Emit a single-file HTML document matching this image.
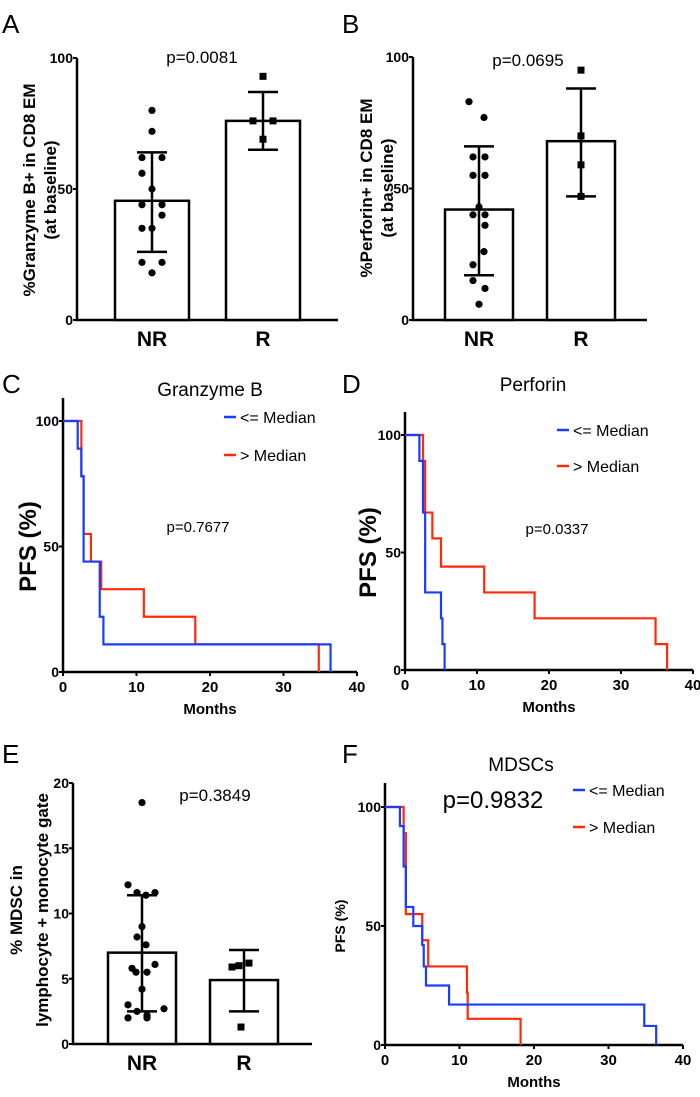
<!DOCTYPE html>
<html><head><meta charset="utf-8"><style>
html,body{margin:0;padding:0;background:#fff;}
svg{display:block;font-family:"Liberation Sans",sans-serif;}
</style></head><body>
<svg id="fig" width="700" height="1097" viewBox="0 0 700 1097"></svg>
<script>
// ---- Panel A data
const aCats=["NR","R"];
const aMeans=[45.5,76];
const aErrLo=[26,65];
const aErrHi=[64,87];
const aNR=[80,72,62,62,56,50,44,44,40,35,35,22,22,18];
const aR=[93,76,76,69];
const aTicks=[0,50,100];
// ---- Panel B data
const bMeans=[42,68];
const bErrLo=[17,47];
const bErrHi=[66,88];
const bNR=[83,77,62,62,55,55,43,40,40,36,26,21,15,12,6];
const bR=[95,70,59,47];
// ---- Panel E data
const eMeans=[7,4.9];
const eErrLo=[2.5,2.5];
const eErrHi=[11.4,7.2];
const eNR=[18.5,12.2,11.6,11.6,11.4,9,8.2,7.6,6.1,5.8,5.5,5.5,4.2,3,2.7,2.5,2.2,2.0,2.0];
const eR=[6.2,6.0,5.9,1.3];
const eTicks=[0,5,10,15,20];
// ---- KM data (time of drop, survival after drop)
const kmXTicks=[0,10,20,30,40];
const kmYTicks=[0,50,100];
const cBlueT=[2,2.5,2.8,5,5.5,36.4];
const cBlueS=[89,78,44,22,11,0];
const cRedT=[2.5,2.8,3.8,5.2,11,18,34.8];
const cRedS=[78,55,44,33,22,11,0];
const dBlueT=[2,2.5,2.8,5,5.2,5.5];
const dBlueS=[89,67,33,22,11,0];
const dRedT=[2.5,2.8,3.8,5,11,18,34.8,36.4];
const dRedS=[89,67,56,44,33,22,11,0];
const fBlueT=[2,2.5,2.8,3.8,5,5.2,5.5,8.6,34.8,36.4];
const fBlueS=[92,75,58,50,42,33,25,17,8,0];
const fRedT=[2.5,2.8,5,5.8,11,11.1,18.2];
const fRedS=[89,55,44,33,22,11,0];

const svg=document.getElementById('fig');
const NS='http://www.w3.org/2000/svg';
function el(tag,attrs,parent){const e=document.createElementNS(NS,tag);for(const k in attrs)e.setAttribute(k,attrs[k]);(parent||svg).appendChild(e);return e;}
function txt(s,x,y,size,weight,anchor,parent,rot){const t=el('text',{x:x,y:y,'font-size':size,'font-weight':weight||'normal','text-anchor':anchor||'middle',fill:'#000'},parent);if(rot)t.setAttribute('transform','rotate(-90 '+x+' '+y+')');t.textContent=s;return t;}

function panelLetter(s,x,y){const t=txt(s,x,y,26,'normal','start');}

function barPanel(o){
  const g=el('g',{});
  
  
  const ys=v=>o.y0-(v/o.ymax)*(o.y0-o.ytop);
  const ax=el('path',{d:`M${o.ax} ${o.ytop}V${o.y0}H${o.xend}`,stroke:'#000','stroke-width':2.5,fill:'none'},g);
  
  
  o.ticks.forEach(t=>{el('line',{x1:o.ax-4,x2:o.ax,y1:ys(t),y2:ys(t),stroke:'#000','stroke-width':2},g);
    const tl=txt(String(t),o.ax-4,ys(t)+5,14,'bold','end',g);});
  o.means.forEach((m,i)=>{
    const cx=o.centers[i],hw=o.hw;
    const r=el('rect',{x:cx-hw,y:ys(m),width:hw*2,height:o.y0-ys(m),fill:'#fff',stroke:'#000','stroke-width':2.5},g);
    
    
    const pts=i===0?o.nr:o.r;
    pts.forEach((v,j)=>{
      const off=o.offsets[i][j%o.offsets[i].length];
      let p;
      if(i===0)p=el('circle',{cx:cx+off,cy:ys(v),r:3.6,fill:'#000'},g);
      else p=el('rect',{x:cx+off-3.5,y:ys(v)-3.5,width:7,height:7,fill:'#000'},g);
      
      
    });
    const e=el('path',{d:`M${cx} ${ys(o.lo[i])}V${ys(o.hi[i])}M${cx-15} ${ys(o.lo[i])}H${cx+15}M${cx-15} ${ys(o.hi[i])}H${cx+15}`,stroke:'#000','stroke-width':2.5,fill:'none'},g);
    
    
    const cl=txt(aCats[i],cx,o.y0+26,21,'bold','middle',g);
    
    
  });
  const p=txt(o.p,o.px,o.py,17,'normal','middle',g);
  
  
  o.ylabel.forEach((s,k)=>{const t=txt(s,o.ylx[k],o.yly,o.ylsize,'bold','middle',g,true);
    
    });
}

function kmPanel(o){
  const g=el('g',{});
  
  
  const xs=v=>o.ax+(v/40)*(o.xend-o.ax);
  const ys=v=>o.y0-(v/100)*(o.y0-o.y100);
  const ax=el('path',{d:`M${o.ax} ${o.ytop}V${o.y0}H${o.xend}`,stroke:'#000','stroke-width':2.5,fill:'none'},g);
  
  
  kmXTicks.forEach(t=>{el('line',{x1:xs(t),x2:xs(t),y1:o.y0,y2:o.y0+4,stroke:'#000','stroke-width':2},g);
    const l=txt(String(t),xs(t),o.y0+20,15,'bold','middle',g);});
  kmYTicks.forEach(t=>{el('line',{x1:o.ax-4,x2:o.ax,y1:ys(t),y2:ys(t),stroke:'#000','stroke-width':2},g);
    const l=txt(String(t),o.ax-4,ys(t)+5,14,'bold','end',g);});
  const curve=(T,S,col,nm)=>{let d=`M${xs(0)} ${ys(100)}`;
    T.forEach((t,i)=>{d+=`H${xs(t)}V${ys(S[i])}`;});
    const p=el('path',{d:d,stroke:col,'stroke-width':2.2,fill:'none'},g);
    
    };
  curve(o.rT,o.rS,'#ff2a0a','curve-above-median');
  curve(o.bT,o.bS,'#1a3cff','curve-below-median');
  const lab=txt('Months',(o.ax+o.xend)/2,o.y0+42,15,'bold','middle',g);
  
  const yl=txt('PFS (%)',o.ylx,(o.y0+o.y100)/2,o.ylsize,'bold','middle',g,true);
  
  const ti=txt(o.title,o.tx,o.ty,19,'normal','middle',g);
  
  const p=txt(o.p,o.px,o.py,o.psize,'normal','middle',g);
  
  [['<= Median','#1a3cff',o.ly1],['> Median','#ff2a0a',o.ly2]].forEach(([s,c,y])=>{
    const lg=el('g',{},g);
    
    
    el('line',{x1:o.lx,x2:o.lx+12,y1:y,y2:y,stroke:c,'stroke-width':2.5},lg);
    txt(s,o.lx+16,y+6,16,'normal','start',lg);
  });
}

panelLetter('A',2,33);panelLetter('B',342,33);panelLetter('C',2,393);panelLetter('D',342,393);panelLetter('E',2,763);panelLetter('F',342,763);

barPanel({name:'panel-a-granzyme-bar-chart',ax:77,ytop:58,y0:320,xend:338,ymax:100,ticks:aTicks,means:aMeans,lo:aErrLo,hi:aErrHi,nr:aNR,r:aR,
  centers:[152,263],hw:37,offsets:[[0,0,-10,10,-10,0,-10,10,10,-10,0,-10,10,0],[0,-10,10,0]],
  p:'p=0.0081',px:202,py:63,ylabel:['%Granzyme B+ in CD8 EM','(at baseline)'],ylx:[35,56],yly:190,ylsize:17});
barPanel({name:'panel-b-perforin-bar-chart',ax:413,ytop:57,y0:320,xend:647,ymax:100,ticks:aTicks,means:bMeans,lo:bErrLo,hi:bErrHi,nr:bNR,r:bR,
  centers:[479,581],hw:34,offsets:[[-10,5,-6,6,-6,6,0,-6,6,6,5,-6,-6,6,0],[0,0,0,0]],
  p:'p=0.0695',px:528,py:66,ylabel:['%Perforin+ in CD8 EM','(at baseline)'],ylx:[372,393],yly:188,ylsize:17});
barPanel({name:'panel-e-mdsc-bar-chart',ax:73,ytop:783,y0:1044,xend:312,ymax:20,ticks:eTicks,means:eMeans,lo:eErrLo,hi:eErrHi,nr:eNR,r:eR,
  centers:[142,244],hw:34,offsets:[[0,-14,-5,13,4,0,-5,4,13,-10,-6,5,0,-14,22,-5,5,-14,5],[5,-5,-12,-3]],
  p:'p=0.3849',px:215,py:801,ylabel:['% MDSC in','lymphocyte + monocyte gate'],ylx:[22,48],yly:910,ylsize:17});

kmPanel({name:'panel-c-granzyme-km',ax:63,ytop:398,y0:672,y100:421,xend:357,bT:cBlueT,bS:cBlueS,rT:cRedT,rS:cRedS,
  title:'Granzyme B',tx:210,ty:396,p:'p=0.7677',px:198,py:532,psize:15,lx:224,ly1:417,ly2:455,ylx:36,ylsize:24});
kmPanel({name:'panel-d-perforin-km',ax:405,ytop:412,y0:670,y100:435,xend:693,bT:dBlueT,bS:dBlueS,rT:dRedT,rS:dRedS,
  title:'Perforin',tx:533,ty:391,p:'p=0.0337',px:557,py:534,psize:15,lx:557,ly1:430,ly2:466,ylx:376,ylsize:24});
kmPanel({name:'panel-f-mdsc-km',ax:385,ytop:783,y0:1045,y100:807,xend:683,bT:fBlueT,bS:fBlueS,rT:fRedT,rS:fRedS,
  title:'MDSCs',tx:521,ty:771,p:'p=0.9832',px:493,py:808,psize:24,lx:573,ly1:790,ly2:827,ylx:345,ylsize:14});
</script>
</body></html>
